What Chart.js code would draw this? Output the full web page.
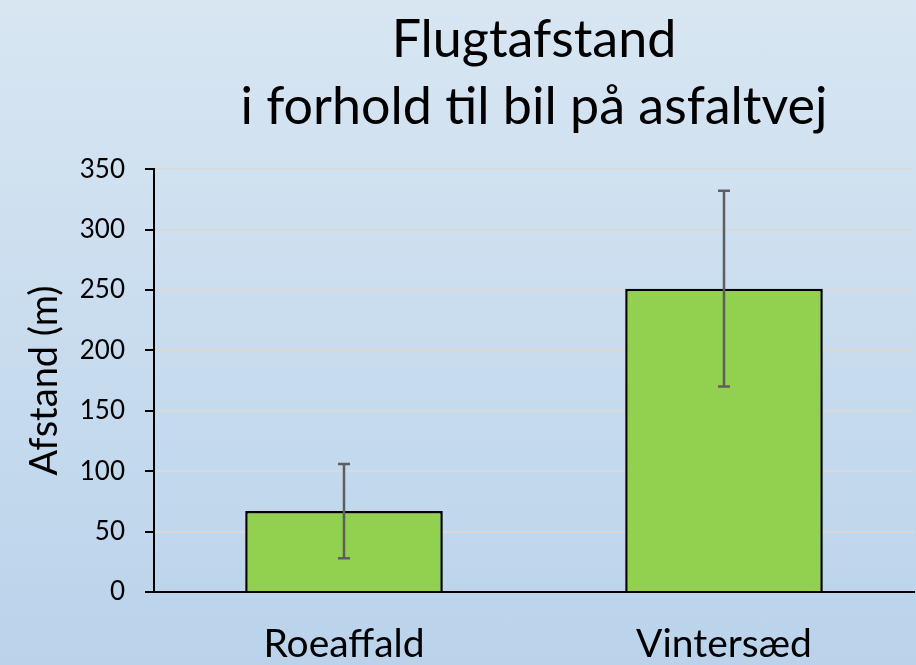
<!DOCTYPE html>
<html>
<head>
<meta charset="utf-8">
<script src="https://cdn.jsdelivr.net/npm/chart.js@4"></script>
<style>
  html, body { margin: 0; padding: 0; }
  body {
    width: 916px; height: 665px; overflow: hidden;
    background: linear-gradient(to bottom, #d8e6f2, #bad3eb);
  }
  #canvasContainer { position: relative; width: 916px; height: 665px; }
</style>
</head>
<body>
<div id="canvasContainer"><canvas id="Grafica"></canvas></div>
<script>
// data
const categories = ['Roeaffald', 'Vintersæd'];
const afstand = [67, 251];
const fejl = [39, 81];          // +/- error bar
const yTicks = [0, 50, 100, 150, 200, 250, 300, 350];

const fontName = 'Lato, "Open Sans", sans-serif';

// draws the error bars through the y scale
const errorBars = {
    id: 'errorBars',
    afterDatasetsDraw(chart){
        const ctx = chart.ctx;
        const meta = chart.getDatasetMeta(0);
        const y = chart.scales.y;
        ctx.save();
        ctx.strokeStyle = '#5e5e5e';
        ctx.lineWidth = 2.5;
        meta.data.forEach((bar, i) => {
            let top = y.getPixelForValue(afstand[i] + fejl[i]);
            let bot = y.getPixelForValue(afstand[i] - fejl[i]);
            let cap = 6;
            ctx.beginPath();
            ctx.moveTo(bar.x, top); ctx.lineTo(bar.x, bot);
            ctx.moveTo(bar.x - cap, top); ctx.lineTo(bar.x + cap, top);
            ctx.moveTo(bar.x - cap, bot); ctx.lineTo(bar.x + cap, bot);
            ctx.stroke();
        });
        ctx.restore();
    }
};

let config = {
    'type': 'bar',
    'data': {
        'labels': categories,
        'datasets': [{
            'data': afstand,
            'backgroundColor': '#92d050',
            'borderColor': '#000000',
            'borderWidth': 2.5,
            'barPercentage': 0.52,
            'categoryPercentage': 1
        }]
    },
    'options': {
        'responsive': false,
        'animation': false,
        'layout': {'padding': {'top': 0, 'left': 0, 'right': 2, 'bottom': 0}},
        'plugins': {
            'legend': {'display': false},
            'tooltip': {'enabled': false},
            'title': {
                'display': true,
                'fullSize': false,   // centre over the plot area, not the canvas
                'text': ['Flugtafstand', 'i forhold til bil på asfaltvej'],
                'color': '#000000',
                'font': {'family': fontName, 'size': 52, 'weight': 'normal', 'lineHeight': 1.28},
                'padding': {'top': 7, 'bottom': 29}
            }
        },
        'scales': {
            'x': {
                'grid': {'display': false, 'drawTicks': false},
                'border': {'color': '#000000', 'width': 2},
                'ticks': {'color': '#000000', 'font': {'family': fontName, 'size': 39}, 'padding': 29},
                'afterFit': s => { s.height = 73; }
            },
            'y': {
                'min': 0, 'max': 350,
                'afterBuildTicks': s => { s.ticks = yTicks.map(v => ({'value': v})); },
                'grid': {'color': '#d9d9d9', 'lineWidth': 2, 'tickColor': '#000000', 'tickLength': 9},
                'border': {'color': '#000000', 'width': 2},
                'ticks': {'color': '#000000', 'font': {'family': fontName, 'size': 26}, 'padding': 20},
                'title': {
                    'display': true,
                    'text': 'Afstand (m)',
                    'color': '#000000',
                    'font': {'family': fontName, 'size': 38},
                    'padding': {'top': 22, 'bottom': 0}
                },
                'afterFit': s => { s.width = 154; }
            }
        }
    },
    'plugins': [errorBars]
};

let canvas = document.getElementById('Grafica');
canvas.width = 916; canvas.height = 665;
new Chart(canvas.getContext('2d'), config);
</script>
</body>
</html>
